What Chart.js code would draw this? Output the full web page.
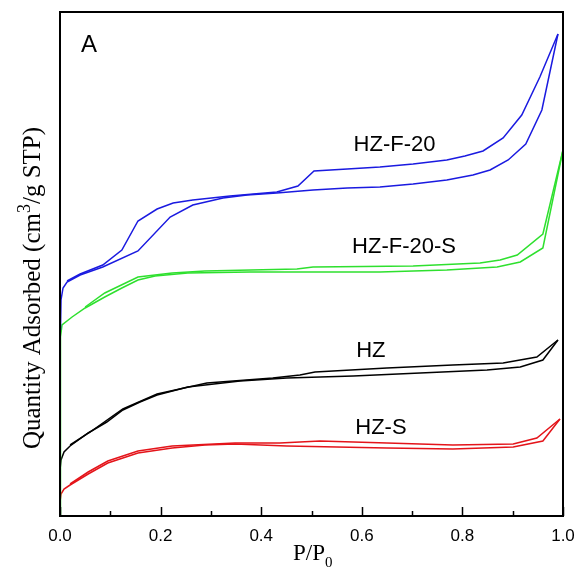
<!DOCTYPE html>
<html>
<head>
<meta charset="utf-8">
<script src="https://cdn.jsdelivr.net/npm/chart.js@4"></script>
<style>
  html, body { margin: 0; padding: 0; background: #fff; }
  #wrap { width: 577px; height: 568px; }
</style>
</head>
<body>
<div id="wrap"><canvas id="iso" width="577" height="568"></canvas></div>
<script>
// N2 isotherms — relative pressure vs quantity adsorbed (y axis has no numbers, arbitrary units)

const xTicks = [0, 0.2, 0.4, 0.6, 0.8, 1.0];

// HZ-F-20
const hzf20AdsP = [0.001, 0.002, 0.006, 0.014, 0.040, 0.085, 0.155, 0.219, 0.264, 0.324, 0.372, 0.431, 0.503, 0.571, 0.636, 0.702, 0.769, 0.821, 0.855, 0.891, 0.926, 0.958, 0.990];
const hzf20AdsV = [186, 216, 228, 234, 241, 249, 265, 299, 311, 318, 321, 323, 326, 328, 329, 332, 336, 341, 346, 356, 372, 406, 482];
const hzf20DesP = [0.014, 0.040, 0.085, 0.123, 0.155, 0.193, 0.225, 0.264, 0.338, 0.431, 0.473, 0.505, 0.571, 0.636, 0.702, 0.769, 0.805, 0.841, 0.881, 0.918, 0.954, 0.990];
const hzf20DesV = [235, 242, 251, 266, 295, 307, 313, 316, 320, 324, 330, 345, 347, 349, 352, 356, 360, 365, 378, 401, 439, 482];

// HZ-F-20-S
const hzf20sAdsP = [0, 0.001, 0.004, 0.024, 0.050, 0.089, 0.123, 0.155, 0.189, 0.254, 0.378, 0.557, 0.636, 0.769, 0.869, 0.915, 0.960, 1.0];
const hzf20sAdsV = [0, 179, 191, 199, 208, 219, 228, 236, 240, 243, 244, 244, 244, 246, 249, 254, 268, 366];
const hzf20sDesP = [0.050, 0.089, 0.155, 0.223, 0.288, 0.471, 0.503, 0.702, 0.835, 0.875, 0.909, 0.960, 1.0];
const hzf20sDesV = [209, 223, 239, 243, 245, 247, 249, 250, 253, 256, 261, 282, 366];

// HZ
const hzAdsP = [0, 0.002, 0.008, 0.020, 0.056, 0.093, 0.125, 0.159, 0.193, 0.254, 0.358, 0.451, 0.583, 0.716, 0.849, 0.915, 0.960, 0.990];
const hzAdsV = [46, 56, 64, 70, 83, 94, 106, 114, 121, 129, 135, 138, 140, 143, 146, 149, 156, 176];
const hzDesP = [0.020, 0.060, 0.125, 0.193, 0.292, 0.423, 0.477, 0.507, 0.650, 0.781, 0.881, 0.948, 0.990];
const hzDesV = [71, 84, 107, 122, 133, 138, 141, 144, 148, 151, 153, 159, 176];

// HZ-S
const hzsAdsP = [0, 0.002, 0.008, 0.020, 0.056, 0.095, 0.155, 0.223, 0.288, 0.348, 0.451, 0.650, 0.781, 0.901, 0.960, 0.994];
const hzsAdsV = [14, 22, 27, 31, 42, 53, 63, 68, 71, 72, 70, 68, 67, 69, 75, 97];
const hzsDesP = [0.020, 0.056, 0.095, 0.155, 0.223, 0.348, 0.437, 0.477, 0.517, 0.650, 0.781, 0.901, 0.948, 0.994];
const hzsDesV = [32, 44, 55, 65, 70, 73, 73, 74, 75, 73, 71, 72, 78, 97];

const C = { blue: '#1a1ae0', green: '#2ee02e', black: '#000000', red: '#e4141a' };

// curve labels: text, P position, value position
const curveLabels = [
	{ text: 'HZ-F-20', p: 0.665, v: 371, color: '#000' },
	{ text: 'HZ-F-20-S', p: 0.684, v: 269, color: '#000' },
	{ text: 'HZ', p: 0.618, v: 165, color: '#000' },
	{ text: 'HZ-S', p: 0.638, v: 88, color: '#000' },
];

const pts = (ps, vs) => ps.map((p, i) => ({ x: p, y: vs[i] }));
const line = (label, data, color) => ({
	label, data, borderColor: color, backgroundColor: color,
	borderWidth: 1.5, pointRadius: 0, tension: 0, fill: false
});

const decor = {
	id: 'decor',
	afterDraw(chart) {
		const { ctx, chartArea: a, scales: { x, y } } = chart;
		ctx.save();
		// inward ticks on bottom axis
		ctx.strokeStyle = '#000';
		ctx.lineWidth = 1.5;
		for (let i = 0; i <= 10; i++) {
			const px = Math.round(x.getPixelForValue(i / 10)) + 0.5;
			const len = i % 2 === 0 ? 9 : 5;
			ctx.beginPath();
			ctx.moveTo(px, a.bottom);
			ctx.lineTo(px, a.bottom - len);
			ctx.stroke();
		}
		// frame
		ctx.lineWidth = 2;
		ctx.strokeRect(a.left, a.top, a.right - a.left, a.bottom - a.top);

		// panel letter
		ctx.fillStyle = '#000';
		ctx.font = "24px 'Liberation Sans', Arial, sans-serif";
		ctx.textAlign = 'left';
		ctx.textBaseline = 'alphabetic';
		ctx.fillText('A', 81, 52);

		// curve labels
		ctx.font = "22px 'Liberation Sans', Arial, sans-serif";
		ctx.textAlign = 'center';
		ctx.textBaseline = 'middle';
		curveLabels.forEach(l => {
			ctx.fillStyle = l.color;
			ctx.fillText(l.text, x.getPixelForValue(l.p), y.getPixelForValue(l.v));
		});

		// x title P/P0
		ctx.textAlign = 'left';
		ctx.textBaseline = 'alphabetic';
		ctx.font = "23px 'Liberation Serif', 'Times New Roman', serif";
		const t1 = 'P/P';
		ctx.fillText(t1, 293, 560);
		const w1 = ctx.measureText(t1).width;
		ctx.font = "15px 'Liberation Serif', 'Times New Roman', serif";
		ctx.fillText('0', 293 + w1, 567);

		// y title, rotated
		ctx.translate(40, 288);
		ctx.rotate(-Math.PI / 2);
		const big = "25px 'Liberation Serif', 'Times New Roman', serif";
		const small = "18px 'Liberation Serif', 'Times New Roman', serif";
		const parts = [['Quantity Adsorbed (cm', big, 0], ['3', small, -10], ['/g STP)', big, 0]];
		let total = 0;
		parts.forEach(p => { ctx.font = p[1]; total += ctx.measureText(p[0]).width; });
		let cx = -total / 2;
		parts.forEach(p => {
			ctx.font = p[1];
			ctx.fillText(p[0], cx, p[2]);
			cx += ctx.measureText(p[0]).width;
		});
		ctx.restore();
	}
};

new Chart(document.getElementById('iso'), {
	type: 'line',
	data: {
		datasets: [
			line('HZ-F-20 ads', pts(hzf20AdsP, hzf20AdsV), C.blue),
			line('HZ-F-20 des', pts(hzf20DesP, hzf20DesV), C.blue),
			line('HZ-F-20-S ads', pts(hzf20sAdsP, hzf20sAdsV), C.green),
			line('HZ-F-20-S des', pts(hzf20sDesP, hzf20sDesV), C.green),
			line('HZ ads', pts(hzAdsP, hzAdsV), C.black),
			line('HZ des', pts(hzDesP, hzDesV), C.black),
			line('HZ-S ads', pts(hzsAdsP, hzsAdsV), C.red),
			line('HZ-S des', pts(hzsDesP, hzsDesV), C.red),
		]
	},
	options: {
		responsive: false,
		animation: false,
		layout: { padding: { left: 60, top: 12, right: 14, bottom: 0 } },
		plugins: { legend: { display: false }, tooltip: { enabled: false } },
		scales: {
			x: {
				type: 'linear', min: 0, max: 1,
				afterFit: s => { s.height = 52; s.paddingLeft = 0; s.paddingRight = 0; },
				afterBuildTicks: s => { s.ticks = xTicks.map(v => ({ value: v })); },
				grid: { display: false, drawTicks: false },
				border: { display: false },
				ticks: {
					padding: 10, maxRotation: 0, autoSkip: false, color: '#000',
					font: { family: "'Liberation Sans', Arial, sans-serif", size: 17 },
					callback: v => Number(v).toFixed(1)
				}
			},
			y: { type: 'linear', min: 0, max: 504, display: false }
		}
	},
	plugins: [decor]
});
</script>
</body>
</html>
